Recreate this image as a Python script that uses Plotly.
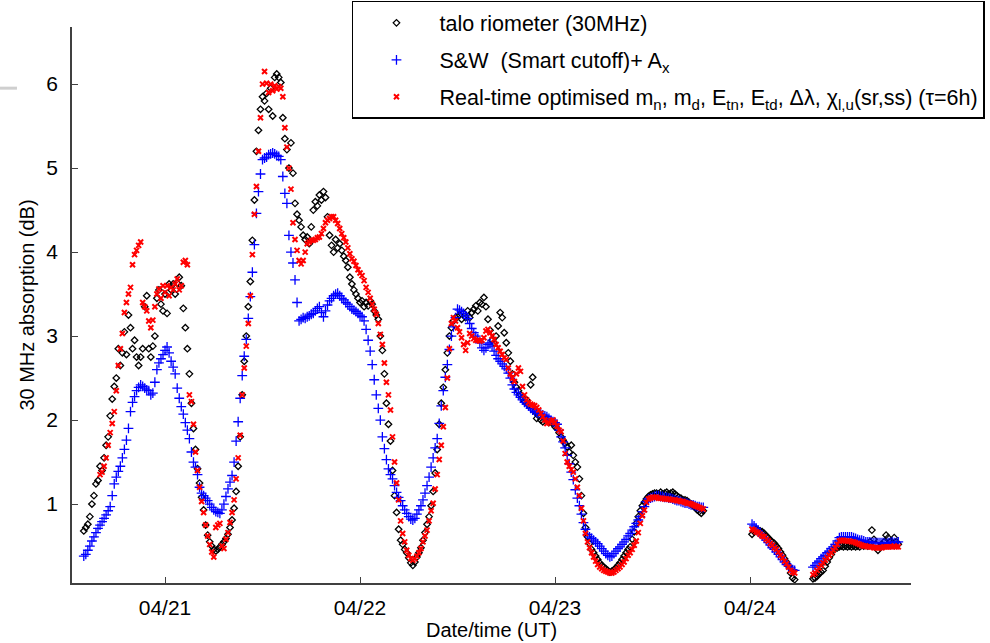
import pandas as pd
import plotly.graph_objects as go

# 15 minute samples, in three blocks (data gaps between them)
start_1 = "2013-04-20 14:00"
start_1_rt = "2013-04-20 16:00"
start_2 = "2013-04-24 00:15"
start_3 = "2013-04-24 07:45"

riometer_1 = [0.68, 0.72, 0.76, 0.85, 1.00, 1.10, 1.24, 1.28, 1.45, 1.40, 1.55, 1.70, 1.80, 2.05, 2.25, 2.40,
              2.50, 2.85, 2.65, 2.80, 3.05, 2.78, 3.25, 3.10, 2.85, 2.95, 2.75, 2.65, 2.75, 2.85, 3.35, 3.48,
              2.85, 2.75, 2.88, 3.00, 3.45, 3.55, 3.38, 3.30, 3.50, 3.27, 3.62, 3.55, 3.62, 3.50, 3.63, 3.70,
              3.60, 3.33, 3.10, 2.85, 2.55, 2.20, 1.90, 1.65, 1.42, 1.25, 1.08, 0.93, 0.75, 0.63, 0.55, 0.50,
              0.46, 0.44, 0.46, 0.49, 0.52, 0.55, 0.59, 0.64, 0.72, 0.81, 0.95, 1.15, 1.45, 1.80, 2.30, 2.70,
              3.00, 3.35, 3.65, 4.14, 4.62, 5.20, 5.45, 5.70, 5.85, 5.80, 5.89, 5.70, 5.95, 5.62, 6.08, 6.12,
              6.08, 6.02, 5.60, 5.35, 5.22, 5.00, 5.30, 4.94, 4.58, 4.45, 4.38, 4.30, 4.20, 4.15, 4.18, 4.10,
              4.30, 4.50, 4.60, 4.55, 4.68, 4.62, 4.72, 4.65, 4.42, 4.20, 4.08, 4.00, 4.15, 4.05, 4.10, 4.02,
              3.95, 3.90, 3.82, 3.70, 3.62, 3.55, 3.50, 3.45, 3.40, 3.42, 3.35, 3.40, 3.36, 3.42, 3.38, 3.30,
              3.25, 3.20, 3.00, 2.83, 2.55, 2.20, 1.95, 1.75, 1.40, 1.10, 0.90, 0.70, 0.57, 0.52, 0.46, 0.42,
              0.36, 0.30, 0.27, 0.31, 0.37, 0.42, 0.48, 0.57, 0.66, 0.76, 0.85, 0.98, 1.15, 1.37, 1.65, 1.95,
              2.20, 2.39, 2.60, 2.80, 3.00, 3.10, 3.18, 3.22, 3.23, 3.25, 3.20, 3.27, 3.22, 3.30, 3.22, 3.28,
              3.32, 3.36, 3.30, 3.40, 3.38, 3.46, 3.35, 3.20, 3.07, 2.95, 2.92, 3.00, 3.12, 3.28, 3.22, 3.04,
              2.92, 2.80, 2.70, 2.55, 2.45, 2.39, 2.35, 2.30, 2.27, 2.22, 2.24, 2.18, 2.42, 2.51, 2.10, 2.02,
              2.05, 2.00, 1.98, 2.02, 2.00, 1.97, 1.98, 1.96, 1.92, 1.90, 1.85, 1.80, 1.76, 1.72, 1.68, 1.62,
              1.70, 1.58, 1.50, 1.44, 1.30, 1.10, 0.89, 0.72, 0.61, 0.53, 0.46, 0.42, 0.38, 0.34, 0.30, 0.27,
              0.25, 0.23, 0.21, 0.19, 0.20, 0.22, 0.24, 0.27, 0.30, 0.34, 0.38, 0.42, 0.46, 0.49, 0.58, 0.67,
              0.77, 0.85, 0.92, 0.98, 1.02, 1.06, 1.09, 1.11, 1.12, 1.13, 1.13, 1.12, 1.14, 1.12, 1.13, 1.14,
              1.12, 1.13, 1.14, 1.12, 1.10, 1.08, 1.07, 1.05, 1.05, 1.04, 1.02, 1.00, 0.98, 0.96, 0.93, 0.91,
              0.89, 0.92]
riometer_2 = [0.64, 0.67, 0.70, 0.69, 0.68, 0.67, 0.65, 0.62, 0.60, 0.57, 0.55, 0.53, 0.50, 0.47, 0.43, 0.39,
              0.35, 0.31, 0.26, 0.18, 0.12, 0.10]
riometer_3 = [0.11, 0.12, 0.14, 0.17, 0.19, 0.21, 0.26, 0.31, 0.36, 0.40, 0.45, 0.47, 0.48, 0.49, 0.50, 0.49,
              0.50, 0.49, 0.50, 0.49, 0.50, 0.49, 0.50, 0.49, 0.51, 0.50, 0.52, 0.50, 0.55, 0.69, 0.58, 0.52,
              0.45, 0.49, 0.52, 0.55, 0.63, 0.60, 0.55, 0.53, 0.60, 0.55, 0.52]

sw_1 = [0.38, 0.40, 0.45, 0.50, 0.56, 0.61, 0.66, 0.71, 0.75, 0.79, 0.83, 0.87, 0.92, 0.97, 1.10, 1.24,
        1.32, 1.39, 1.45, 1.55, 1.65, 1.76, 1.90, 2.10, 2.21, 2.28, 2.35, 2.39, 2.42, 2.40, 2.38, 2.36,
        2.35, 2.30, 2.32, 2.45, 2.60, 2.68, 2.73, 2.78, 2.83, 2.87, 2.80, 2.70, 2.63, 2.55, 2.38, 2.26,
        2.16, 2.07, 1.97, 1.88, 1.78, 1.62, 1.50, 1.44, 1.35, 1.20, 1.13, 1.10, 1.07, 1.04, 1.00, 0.96,
        0.93, 0.91, 0.90, 0.89, 0.93, 1.00, 1.09, 1.18, 1.26, 1.34, 1.50, 1.75, 1.98, 2.26, 2.53, 2.76,
        2.96, 3.21, 3.47, 3.76, 4.09, 4.46, 4.72, 4.93, 5.10, 5.12, 5.13, 5.16, 5.17, 5.18, 5.17, 5.15,
        5.14, 5.10, 4.90, 4.70, 4.58, 4.20, 4.00, 3.87, 3.67, 3.40, 3.18, 3.20, 3.22, 3.21, 3.23, 3.24,
        3.26, 3.27, 3.30, 3.33, 3.35, 3.28, 3.23, 3.30, 3.37, 3.42, 3.45, 3.48, 3.50, 3.51, 3.48, 3.45,
        3.43, 3.40, 3.38, 3.35, 3.32, 3.31, 3.29, 3.27, 3.25, 3.23, 3.18, 3.08, 2.95, 2.82, 2.66, 2.48,
        2.30, 2.14, 2.00, 1.80, 1.66, 1.53, 1.42, 1.35, 1.30, 1.22, 1.14, 1.08, 1.04, 0.98, 0.93, 0.89,
        0.85, 0.82, 0.81, 0.83, 0.88, 0.93, 0.98, 1.05, 1.13, 1.22, 1.32, 1.44, 1.55, 1.67, 1.78, 1.96,
        2.17, 2.35, 2.51, 2.66, 2.84, 3.00, 3.11, 3.22, 3.32, 3.31, 3.29, 3.27, 3.24, 3.21, 3.15, 3.09,
        3.04, 3.00, 2.97, 2.92, 2.86, 2.83, 2.86, 2.90, 2.92, 2.88, 2.82, 2.77, 2.73, 2.70, 2.67, 2.64,
        2.61, 2.56, 2.50, 2.42, 2.37, 2.33, 2.30, 2.27, 2.24, 2.21, 2.19, 2.17, 2.14, 2.12, 2.10, 2.09,
        2.08, 2.07, 2.06, 2.05, 2.04, 2.02, 2.00, 1.98, 1.97, 1.95, 1.88, 1.80, 1.74, 1.67, 1.58, 1.48,
        1.38, 1.29, 1.17, 1.07, 0.98, 0.88, 0.78, 0.70, 0.64, 0.61, 0.59, 0.57, 0.55, 0.53, 0.50, 0.47,
        0.44, 0.41, 0.39, 0.37, 0.38, 0.41, 0.44, 0.47, 0.49, 0.52, 0.55, 0.58, 0.62, 0.65, 0.69, 0.73,
        0.77, 0.81, 0.85, 0.91, 0.97, 1.03, 1.06, 1.07, 1.08, 1.09, 1.10, 1.10, 1.09, 1.09, 1.08, 1.08,
        1.07, 1.07, 1.06, 1.05, 1.04, 1.04, 1.03, 1.02, 1.01, 1.01, 1.00, 0.99, 0.99, 0.98, 0.97, 0.97,
        0.96, 0.96]
sw_2 = [0.76, 0.74, 0.71, 0.68, 0.65, 0.62, 0.60, 0.57, 0.54, 0.51, 0.48, 0.46, 0.43, 0.40, 0.37, 0.34,
        0.31, 0.28, 0.26, 0.24, 0.22, 0.21]
sw_3 = [0.25, 0.27, 0.30, 0.32, 0.35, 0.37, 0.39, 0.42, 0.44, 0.47, 0.49, 0.52, 0.56, 0.60, 0.61, 0.61,
        0.61, 0.61, 0.61, 0.61, 0.60, 0.59, 0.58, 0.57, 0.57, 0.56, 0.55, 0.55, 0.55, 0.54, 0.54, 0.54,
        0.54, 0.54, 0.54, 0.54, 0.53, 0.54, 0.54, 0.55, 0.54, 0.54, 0.55]

realtime_1 = [1.35, 1.38, 1.45, 1.55, 1.70, 1.85, 1.96, 2.10, 2.35, 2.65, 2.85, 3.03, 3.28, 3.40, 3.50, 3.58,
              3.85, 3.97, 4.02, 4.08, 4.12, 3.40, 3.35, 3.30, 3.18, 3.10, 3.19, 3.35, 3.50, 3.56, 3.45, 3.60,
              3.52, 3.60, 3.48, 3.58, 3.55, 3.62, 3.68, 3.55, 3.60, 3.88, 3.90, 3.85, 2.30, 2.22, 1.95, 1.62,
              1.40, 1.20, 1.03, 0.90, 0.75, 0.62, 0.52, 0.43, 0.37, 0.72, 0.75, 0.77, 0.50, 0.47, 0.58, 0.66,
              0.78, 0.90, 1.05, 1.30, 1.55, 1.82, 2.30, 2.62, 2.88, 3.15, 3.48, 3.97, 4.45, 4.78, 5.20, 5.60,
              6.00, 6.15, 6.01, 5.90, 6.00, 5.92, 5.98, 5.94, 5.97, 5.95, 5.85, 5.48, 5.25, 5.00, 4.75, 4.35,
              4.15, 4.02, 3.90, 3.86, 3.90, 4.00, 4.10, 4.12, 4.14, 4.14, 4.15, 4.17, 4.18, 4.22, 4.28, 4.35,
              4.38, 4.40, 4.42, 4.42, 4.38, 4.34, 4.28, 4.22, 4.17, 4.12, 4.05, 3.98, 3.92, 3.89, 3.84, 3.79,
              3.75, 3.72, 3.66, 3.58, 3.52, 3.45, 3.38, 3.32, 3.26, 3.15, 3.02, 2.90, 2.68, 2.45, 2.30, 2.12,
              1.80, 1.50, 1.25, 1.05, 0.80, 0.65, 0.55, 0.45, 0.39, 0.35, 0.33, 0.35, 0.38, 0.42, 0.47, 0.55,
              0.62, 0.69, 0.80, 0.92, 1.01, 1.18, 1.35, 1.53, 1.70, 1.92, 2.15, 2.50, 2.85, 3.15, 3.22, 3.18,
              3.10, 3.05, 2.98, 2.90, 2.83, 2.92, 3.03, 3.00, 2.97, 2.95, 2.95, 2.94, 2.95, 2.98, 3.06, 3.08,
              3.04, 3.00, 2.96, 2.90, 2.86, 2.82, 2.78, 2.74, 2.72, 2.62, 2.55, 2.50, 2.46, 2.55, 2.62, 2.58,
              2.40, 2.30, 2.24, 2.21, 2.19, 2.18, 2.17, 2.15, 2.12, 2.08, 2.04, 2.00, 1.96, 1.97, 1.99, 2.00,
              1.97, 1.93, 1.88, 1.86, 1.75, 1.60, 1.50, 1.45, 1.41, 1.38, 1.30, 1.20, 1.10, 0.95, 0.80, 0.65,
              0.55, 0.48, 0.42, 0.37, 0.32, 0.28, 0.25, 0.23, 0.21, 0.20, 0.19, 0.18, 0.18, 0.19, 0.21, 0.23,
              0.25, 0.28, 0.31, 0.35, 0.39, 0.42, 0.46, 0.51, 0.56, 0.66, 0.77, 0.86, 0.93, 1.02, 1.06, 1.07,
              1.08, 1.08, 1.08, 1.07, 1.07, 1.07, 1.06, 1.06, 1.06, 1.05, 1.05, 1.05, 1.04, 1.04, 1.03, 1.03,
              1.02, 1.01, 1.01, 1.00, 0.99, 0.98, 0.97, 0.96, 0.95, 0.94]
realtime_2 = [0.70, 0.69, 0.67, 0.66, 0.64, 0.62, 0.61, 0.58, 0.56, 0.53, 0.51, 0.48, 0.46, 0.43, 0.39, 0.36,
              0.32, 0.29, 0.25, 0.21, 0.19, 0.18]
realtime_3 = [0.16, 0.18, 0.21, 0.24, 0.27, 0.30, 0.33, 0.36, 0.39, 0.42, 0.45, 0.48, 0.52, 0.56, 0.57, 0.57,
              0.56, 0.56, 0.56, 0.55, 0.55, 0.54, 0.53, 0.52, 0.51, 0.50, 0.50, 0.49, 0.49, 0.49, 0.48, 0.48,
              0.48, 0.48, 0.48, 0.49, 0.49, 0.49, 0.49, 0.49, 0.50, 0.49, 0.49]

x_ticks = ["2013-04-21", "2013-04-22", "2013-04-23", "2013-04-24"]
y_ticks = [1, 2, 3, 4, 5, 6]


# Function to join the data blocks of one series onto a 15 minute time axis
def join_blocks(starts, blocks):
    times = []
    values = []
    for start, block in zip(starts, blocks):
        times += list(pd.date_range(start, periods=len(block), freq="15min"))
        values += block
    return times, values


rio_t, rio_v = join_blocks([start_1, start_2, start_3], [riometer_1, riometer_2, riometer_3])
sw_t, sw_v = join_blocks([start_1, start_2, start_3], [sw_1, sw_2, sw_3])
rt_t, rt_v = join_blocks([start_1_rt, start_2, start_3], [realtime_1, realtime_2, realtime_3])

font_family = "Liberation Sans"

fig = go.Figure()

fig.add_trace(go.Scatter(
    x=rio_t, y=rio_v, mode="markers", name="talo riometer (30MHz)",
    legendgroup="a",
    marker=dict(symbol="diamond-open", size=5, color="black", line=dict(width=1.3, color="black"))
))

fig.add_trace(go.Scatter(
    x=sw_t, y=sw_v, mode="markers", name="S&amp;W  (Smart cutoff)+ A<sub>x</sub>",
    legendgroup="b",
    marker=dict(symbol="cross-thin", size=7, color="#0000ff", line=dict(width=1.3, color="#0000ff"))
))

fig.add_trace(go.Scatter(
    x=rt_t, y=rt_v, mode="markers",
    name="Real-time optimised m<sub>n</sub>, m<sub>d</sub>, E<sub>tn</sub>, E<sub>td</sub>, "
         "\u0394\u03bb, \u03c7<sub>l,u</sub>(sr,ss) (\u03c4=6h)",
    legendgroup="c",
    marker=dict(symbol="x-thin", size=5, color="#ff0000", line=dict(width=2, color="#ff0000"))
))

axis_color = "#404040"

fig.update_layout(
    width=990, height=643,
    margin=dict(l=72, r=79, t=27, b=60, autoexpand=False),
    paper_bgcolor="white", plot_bgcolor="white",
    font=dict(family=font_family, size=20, color="black"),
    showlegend=True,
    legend=dict(
        x=0.3337, y=1.047, xanchor="left", yanchor="top",
        bgcolor="white", bordercolor="black", borderwidth=1.5,
        font=dict(family=font_family, size=21.5), itemwidth=76,
        traceorder="grouped", tracegroupgap=6
    ),
    xaxis=dict(
        type="date", range=["2013-04-20 12:33", "2013-04-24 19:49"],
        tickvals=x_ticks, tickformat="%m/%d",
        tickfont=dict(family=font_family, size=21),
        ticks="inside", ticklen=6, tickwidth=1, tickcolor=axis_color,
        showline=True, linecolor=axis_color, linewidth=1.5, mirror=False,
        showgrid=False, zeroline=False, ticklabelstandoff=5,
        title=dict(text="Date/time (UT)", standoff=4, font=dict(family=font_family, size=20))
    ),
    yaxis=dict(
        range=[0.06, 6.68], tickvals=y_ticks,
        tickfont=dict(family=font_family, size=21),
        ticks="inside", ticklen=6, tickwidth=1, tickcolor=axis_color,
        showline=True, linecolor=axis_color, linewidth=1.5, mirror=False,
        showgrid=False, zeroline=False, ticklabelstandoff=8,
        title=dict(text="30 MHz absorption (dB)", standoff=6, font=dict(family=font_family, size=20))
    ),
    shapes=[dict(type="line", xref="paper", yref="paper",
                 x0=-0.0858, x1=-0.0656, y0=0.89, y1=0.89,
                 line=dict(color="#cfcfcf", width=3))]
)

# page body margin off, so the figure sits at the window's top-left corner
fig.write_html("out.html", config={"displayModeBar": False},
               post_script="document.body.style.margin='0';")
